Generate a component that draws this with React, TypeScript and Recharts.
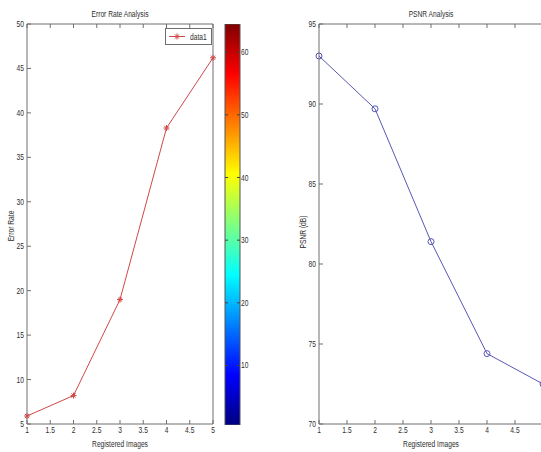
import React from 'react';
import { LineChart, Line, XAxis, YAxis, Legend, BarChart, Bar } from 'recharts';

// ---- data ----
const images = [1, 2, 3, 4, 5];
const errorRate = [5.9, 8.2, 19.0, 38.3, 46.2];
const psnr = [93.0, 89.7, 81.4, 74.4, 72.5];
const xTicks = [1, 1.5, 2, 2.5, 3, 3.5, 4, 4.5, 5];
const errorTicks = [5, 10, 15, 20, 25, 30, 35, 40, 45, 50];
const psnrTicks = [70, 75, 80, 85, 90, 95];
const colorbarTicks = [10, 20, 30, 40, 50, 60];
const colorbarDomain = [0.5, 64.5];

const errorData = images.map((x, i) => ({ x, v: errorRate[i] }));
const psnrData = images.map((x, i) => ({ x, v: psnr[i] }));
const colorbarData = [{ name: 'cb', top: colorbarDomain[1] }];

// ---- styles ----
const FONT = "'Liberation Sans', Arial, sans-serif";
const AXIS = '#6e6e6e';
const TEXT = '#2e2e2e';
const RED = '#d04848';
const BLUE = '#5858b4';
const FS = 9;
const SX = 0.74;
const TL = 4;

const NText = ({ x, y, anchor, rotate, children }: any) => (
  <text
    transform={`translate(${x} ${y})${rotate ? ` rotate(${rotate})` : ''} scale(${SX} 1)`}
    textAnchor={anchor}
    fontSize={FS}
    fontFamily={FONT}
    fill={TEXT}
  >
    {children}
  </text>
);

const BottomTick = (p: any) => (
  <g>
    <line x1={p.x} y1={p.y} x2={p.x} y2={p.y - TL} stroke={AXIS} />
    <NText x={p.x} y={p.y + 9} anchor="middle">
      {String(p.payload.value)}
    </NText>
  </g>
);
const TopTick = (p: any) => <line x1={p.x} y1={p.y} x2={p.x} y2={p.y + TL} stroke={AXIS} />;
const LeftTick = (p: any) => (
  <g>
    <line x1={p.x} y1={p.y} x2={p.x + TL} y2={p.y} stroke={AXIS} />
    <NText x={p.x - 3} y={p.y + 3} anchor="end">
      {String(p.payload.value)}
    </NText>
  </g>
);
const RightTick = (p: any) => <line x1={p.x} y1={p.y} x2={p.x - TL} y2={p.y} stroke={AXIS} />;
const CbLeftTick = (p: any) => <line x1={p.x} y1={p.y} x2={p.x + 3} y2={p.y} stroke="#444" />;
const CbRightTick = (p: any) => (
  <g>
    <line x1={p.x} y1={p.y} x2={p.x - 3} y2={p.y} stroke="#444" />
    <NText x={p.x + 1} y={p.y + 3} anchor="start">
      {String(p.payload.value)}
    </NText>
  </g>
);

const vLabel = (text: string, dx: number, cy: number) => (props: any) => {
  const vb = props.viewBox;
  return (
    <NText x={vb.x + dx} y={cy} anchor="middle" rotate={-90}>
      {text}
    </NText>
  );
};

const titleLabel = (text: string) => (props: any) => {
  const vb = props.viewBox;
  return (
    <NText x={vb.x + vb.width / 2} y={17} anchor="middle">
      {text}
    </NText>
  );
};
const xLabel = (text: string) => (props: any) => {
  const vb = props.viewBox;
  return (
    <NText x={vb.x + vb.width / 2} y={447} anchor="middle">
      {text}
    </NText>
  );
};

const Star = ({ cx, cy, color }: any) => {
  const r = 3;
  const d = 2.1;
  return (
    <g stroke={color} strokeWidth={1}>
      <line x1={cx - r} y1={cy} x2={cx + r} y2={cy} />
      <line x1={cx} y1={cy - r} x2={cx} y2={cy + r} />
      <line x1={cx - d} y1={cy - d} x2={cx + d} y2={cy + d} />
      <line x1={cx - d} y1={cy + d} x2={cx + d} y2={cy - d} />
    </g>
  );
};

const LegendBox = () => (
  <div
    style={{
      width: 47,
      height: 17,
      border: `1px solid ${AXIS}`,
      background: '#fff',
      boxSizing: 'border-box',
      display: 'flex',
      alignItems: 'center',
      fontFamily: FONT,
      fontSize: FS,
      color: TEXT,
      overflow: 'hidden',
    }}
  >
    <svg width={22} height={15} style={{ display: 'block', flex: 'none' }}>
      <line x1={3} y1={7.5} x2={19} y2={7.5} stroke={RED} />
      <Star cx={11} cy={7.5} color={RED} />
    </svg>
    <span style={{ display: 'inline-block', marginLeft: 2, transform: `scaleX(${SX})`, transformOrigin: 'left center', whiteSpace: 'nowrap' }}>
      data1
    </span>
  </div>
);

export default function App() {
  return (
    <div style={{ position: 'absolute', left: 0, top: 0, width: 541, height: 452, overflow: 'hidden', background: '#fff' }}>
      {/* Error rate chart */}
      <div style={{ position: 'absolute', left: 0, top: 0 }}>
        <LineChart width={220} height={452} data={errorData} margin={{ top: 23, right: 0, bottom: 0, left: 0 }}>
          <XAxis
            xAxisId="b"
            type="number"
            dataKey="x"
            domain={[1, 5]}
            ticks={xTicks}
            interval={0}
            height={28}
            tickSize={0}
            tickMargin={0}
            tick={BottomTick}
            axisLine={{ stroke: AXIS }}
            label={{ content: xLabel('Registered Images') }}
          />
          <XAxis
            xAxisId="t"
            orientation="top"
            type="number"
            dataKey="x"
            domain={[1, 5]}
            ticks={xTicks}
            interval={0}
            height={1}
            tickSize={0}
            tickMargin={0}
            tick={TopTick}
            axisLine={{ stroke: AXIS }}
            label={{ content: titleLabel('Error Rate Analysis') }}
          />
          <YAxis
            yAxisId="l"
            type="number"
            domain={[5, 50]}
            ticks={errorTicks}
            interval={0}
            width={27}
            tickSize={0}
            tickMargin={0}
            tick={LeftTick}
            axisLine={{ stroke: AXIS }}
            label={{ content: vLabel('Error Rate', 14, 226) }}
          />
          <YAxis
            yAxisId="r"
            orientation="right"
            type="number"
            domain={[5, 50]}
            ticks={errorTicks}
            interval={0}
            width={7}
            tickSize={0}
            tickMargin={0}
            tick={RightTick}
            axisLine={{ stroke: AXIS }}
          />
          <Legend
            layout="horizontal"
            verticalAlign="middle"
            align="center"
            wrapperStyle={{ position: 'absolute', top: 28, left: 165, width: 47, height: 17 }}
            content={() => <LegendBox />}
          />
          <Line
            xAxisId="b"
            yAxisId="l"
            dataKey="v"
            name="data1"
            stroke={RED}
            strokeWidth={1}
            isAnimationActive={false}
            dot={(p: any) => <Star key={`s${p.index}`} cx={p.cx} cy={p.cy} color={RED} />}
          />
        </LineChart>
      </div>

      {/* Colorbar */}
      <div style={{ position: 'absolute', left: 224, top: 0 }}>
        <BarChart
          width={45}
          height={452}
          data={colorbarData}
          margin={{ top: 24, right: 0, bottom: 27, left: 0 }}
          barCategoryGap={0}
          barGap={0}
        >
          <defs>
            <linearGradient id="jet" x1="0" y1="1" x2="0" y2="0">
              <stop offset="0" stopColor="#000080" />
              <stop offset="0.125" stopColor="#0000ff" />
              <stop offset="0.375" stopColor="#00ffff" />
              <stop offset="0.625" stopColor="#ffff00" />
              <stop offset="0.875" stopColor="#ff0000" />
              <stop offset="1" stopColor="#800000" />
            </linearGradient>
          </defs>
          <XAxis xAxisId="c" type="category" dataKey="name" hide />
          <YAxis
            yAxisId="cl"
            type="number"
            domain={colorbarDomain}
            allowDataOverflow
            ticks={colorbarTicks}
            interval={0}
            width={1}
            tickSize={0}
            tickMargin={0}
            tick={CbLeftTick}
            axisLine={false}
          />
          <YAxis
            yAxisId="cr"
            orientation="right"
            type="number"
            domain={colorbarDomain}
            allowDataOverflow
            ticks={colorbarTicks}
            interval={0}
            width={29}
            tickSize={0}
            tickMargin={0}
            tick={CbRightTick}
            axisLine={false}
          />
          <Bar
            xAxisId="c"
            yAxisId="cl"
            dataKey="top"
            fill="url(#jet)"
            stroke="#555"
            strokeWidth={1}
            isAnimationActive={false}
          />
        </BarChart>
      </div>

      {/* PSNR chart */}
      <div style={{ position: 'absolute', left: 280, top: 0 }}>
        <LineChart width={270} height={452} data={psnrData} margin={{ top: 23, right: 0, bottom: 0, left: 0 }}>
          <XAxis
            xAxisId="b"
            type="number"
            dataKey="x"
            domain={[1, 5]}
            ticks={xTicks}
            interval={0}
            height={28}
            tickSize={0}
            tickMargin={0}
            tick={BottomTick}
            axisLine={{ stroke: AXIS }}
            label={{ content: xLabel('Registered Images') }}
          />
          <XAxis
            xAxisId="t"
            orientation="top"
            type="number"
            dataKey="x"
            domain={[1, 5]}
            ticks={xTicks}
            interval={0}
            height={1}
            tickSize={0}
            tickMargin={0}
            tick={TopTick}
            axisLine={{ stroke: AXIS }}
            label={{ content: titleLabel('PSNR Analysis') }}
          />
          <YAxis
            yAxisId="l"
            type="number"
            domain={[70, 95]}
            ticks={psnrTicks}
            interval={0}
            width={39}
            tickSize={0}
            tickMargin={0}
            tick={LeftTick}
            axisLine={{ stroke: AXIS }}
            label={{ content: vLabel('PSNR (dB)', 26, 232) }}
          />
          <YAxis
            yAxisId="r"
            orientation="right"
            type="number"
            domain={[70, 95]}
            ticks={psnrTicks}
            interval={0}
            width={7}
            tickSize={0}
            tickMargin={0}
            tick={RightTick}
            axisLine={{ stroke: AXIS }}
          />
          <Line
            xAxisId="b"
            yAxisId="l"
            dataKey="v"
            name="data1"
            stroke={BLUE}
            strokeWidth={1}
            isAnimationActive={false}
            dot={{ r: 3, stroke: BLUE, strokeWidth: 1, fill: 'none' }}
          />
        </LineChart>
      </div>
    </div>
  );
}
